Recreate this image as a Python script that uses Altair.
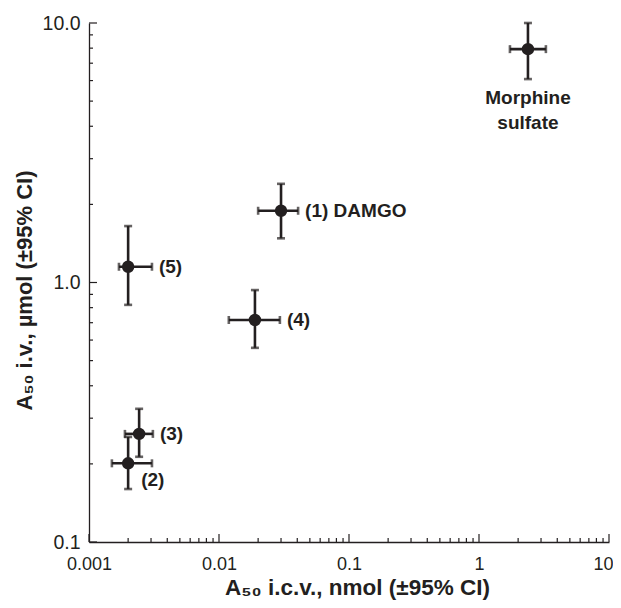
import altair as alt
import pandas as pd

# ---- data ----
names = ["(1) DAMGO", "(2)", "(3)", "(4)", "(5)", "Morphine sulfate"]
x_val = [0.030, 0.0020, 0.00243, 0.0189, 0.0020, 2.38]
x_lo = [0.020, 0.00150, 0.00189, 0.0119, 0.0017, 1.73]
x_hi = [0.0406, 0.00305, 0.0031, 0.0294, 0.00305, 3.27]
y_val = [1.89, 0.201, 0.261, 0.717, 1.15, 7.93]
y_lo = [1.48, 0.16, 0.213, 0.56, 0.82, 6.08]
y_hi = [2.40, 0.254, 0.326, 0.935, 1.65, 10.0]

x_major = [0.001, 0.01, 0.1, 1, 10]
y_major = [0.1, 1, 10]
minor_mult = [2, 3, 4, 5, 6, 7, 8, 9]
x_minor = [m * d for d in [0.001, 0.01, 0.1, 1] for m in minor_mult]
y_minor = [m * d for d in [0.1, 1] for m in minor_mult]

df = pd.DataFrame({"name": names, "x": x_val, "xlo": x_lo, "xhi": x_hi,
                   "y": y_val, "ylo": y_lo, "yhi": y_hi})
df["label"] = df["name"].str.replace("Morphine sulfate", "Morphine\nsulfate")

W, H = 520, 519
INK = "#231f20"
FONT = "Liberation Sans"

xs = alt.Scale(type="log", domain=[0.001, 10], nice=False)
ys = alt.Scale(type="log", domain=[0.1, 10], nice=False)

XAX = alt.Axis(
    title="A₅₀ i.c.v., nmol (±95% CI)", values=x_major, format="~g",
    ticks=False, labelPadding=13, labelFlush=False, grid=False,
    labelOffset=alt.condition("datum.value >= 10", alt.value(-6), alt.value(0)),
    titleX=268, titleY=52, titleBaseline="alphabetic", titleAlign="center",
    titleFontSize=22.5)
YAX = alt.Axis(
    title="A₅₀ i.v., µmol (±95% CI)", values=y_major, format=".1f",
    ticks=False, labelPadding=9, labelFlush=False, grid=False,
    labelFontSize=19.5,
    titleX=-65, titleY=267, titleAngle=-90, titleBaseline="middle",
    titleAlign="center", titleFontSize=22)


def X(f):
    return alt.X(f"{f}:Q", scale=xs, axis=XAX)


def Y(f):
    return alt.Y(f"{f}:Q", scale=ys, axis=YAX)


base = alt.Chart(df)

points = base.mark_circle(size=154, opacity=1, color=INK).encode(x=X("x"), y=Y("y"))

xbars = base.mark_rule(color=INK, strokeWidth=2.6).encode(x=X("xlo"), x2="xhi:Q", y=Y("y"))
ybars = base.mark_rule(color=INK, strokeWidth=2.6).encode(y=Y("ylo"), y2="yhi:Q", x=X("x"))


def cap(orient, xf, yf):
    return base.mark_tick(color=INK, orient=orient, size=8, thickness=2.6).encode(
        x=X(xf), y=Y(yf))


caps = [cap("vertical", "xlo", "y"), cap("vertical", "xhi", "y"),
        cap("horizontal", "x", "ylo"), cap("horizontal", "x", "yhi")]

txt = dict(font=FONT, fontSize=19, fontWeight="bold", color=INK)
lab_right = base.transform_filter(
    alt.FieldOneOfPredicate(field="name", oneOf=["(1) DAMGO", "(3)", "(4)", "(5)"])
).mark_text(align="left", baseline="middle", dx=7, **txt).encode(
    x=X("xhi"), y=Y("y"), text="label:N")
lab_2 = base.transform_filter(alt.datum.name == "(2)").mark_text(
    align="left", baseline="middle", dx=13, dy=17, **txt).encode(
    x=X("x"), y=Y("y"), text="label:N")
lab_m = base.transform_filter(alt.datum.name == "Morphine sulfate").mark_text(
    align="center", baseline="top", dy=10, lineBreak="\n", lineHeight=25, **txt).encode(
    x=X("x"), y=Y("ylo"), text="label:N")


def xticks(vals, length):
    return alt.Chart(pd.DataFrame({"x": vals})).mark_rule(color=INK, strokeWidth=1.2).encode(
        x=X("x"), y=alt.value(H), y2=alt.value(H - length))


def yticks(vals, length):
    return alt.Chart(pd.DataFrame({"y": vals})).mark_rule(color=INK, strokeWidth=1.2).encode(
        y=Y("y"), x=alt.value(0), x2=alt.value(length))


ticks = [xticks(x_major, 8), xticks(x_minor, 4), yticks(y_major, 8), yticks(y_minor, 4)]

chart = alt.layer(*ticks, xbars, ybars, *caps, points, lab_right, lab_2, lab_m).properties(
    width=W, height=H,
    autosize=alt.AutoSizeParams(type="none"),
    padding={"left": 81, "top": 15, "right": 4, "bottom": 58},
).configure(background="white").configure_view(stroke=None).configure_axis(
    labelFont=FONT, labelFontSize=18, labelColor=INK,
    titleFont=FONT, titleFontWeight="bold", titleColor=INK,
    domainColor=INK, domainWidth=1.3,
)

chart.save("out.html", embed_options={"renderer": "svg", "actions": False})
